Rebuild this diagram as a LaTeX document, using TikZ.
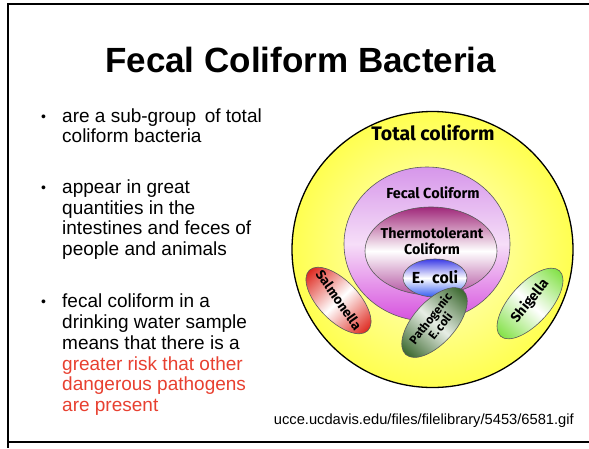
\documentclass[tikz,border=0pt]{standalone}
\usepackage{fontspec}
\setmainfont{Liberation Sans}
\newfontfamily\comic{Fira Sans}
\usetikzlibrary{shapes.geometric}
\definecolor{slidered}{RGB}{232,64,48}
\definecolor{yelin}{RGB}{255,255,215}
\definecolor{yelout}{RGB}{255,255,80}
\definecolor{fecaltop}{RGB}{214,150,234}
\definecolor{fecalmid}{RGB}{246,222,248}
\definecolor{fecalbot}{RGB}{214,80,222}
\definecolor{thermotop}{RGB}{160,40,122}
\definecolor{thermobot}{RGB}{178,82,160}
\definecolor{ecolitop}{RGB}{60,60,230}
\definecolor{ecolibot}{RGB}{50,90,240}
\definecolor{salred}{RGB}{222,40,30}
\definecolor{pathgreen}{RGB}{58,104,46}
\definecolor{pathmid}{RGB}{232,238,230}
\definecolor{shiggreen}{RGB}{130,225,70}
\begin{document}
\begin{tikzpicture}[x=1pt,y=-1pt,
  bodytext/.style={anchor=base west, inner sep=0pt, font=\fontsize{19}{20}\selectfont},
  bulletmark/.style={anchor=base west, inner sep=0pt, font=\fontsize{14}{14}\selectfont},
  lbl/.style={inner sep=0pt, align=center},
  outline/.style={draw=black!65, line width=0.6pt},
]
\useasboundingbox (0,0) rectangle (589,448);
\fill[white] (0,0) rectangle (589,448);
% frame
\draw[line width=1.6pt] (589,4) -- (8,4) -- (8,448);
\draw[line width=1.6pt] (8,442) -- (589,442);

% title
\node[anchor=base west, inner sep=0pt, font=\bfseries\fontsize{35}{40}\selectfont] (title) at (105,72) {Fecal Coliform Bacteria};

% bullets
\node[bulletmark] (m1) at (41,121.5) {•};
\node[bodytext] (t1a) at (62,122) {are a sub-group\, of total};
\node[bodytext] (t1b) at (62,142) {coliform bacteria};

\node[bulletmark] (m2) at (41,192.5) {•};
\node[bodytext] (t2a) at (62,193) {appear in great};
\node[bodytext] (t2b) at (62,214) {quantities in the};
\node[bodytext] (t2c) at (62,234.5) {intestines and feces of};
\node[bodytext] (t2d) at (62,255) {people and animals};

\node[bulletmark] (m3) at (41,306.5) {•};
\node[bodytext] (t3a) at (62,307) {fecal coliform in a};
\node[bodytext] (t3b) at (62,328) {drinking water sample};
\node[bodytext] (t3c) at (62,349) {means that there is a};
\node[bodytext, text=slidered] (t3d) at (62,370) {greater risk that other};
\node[bodytext, text=slidered] (t3e) at (62,390.5) {dangerous pathogens};
\node[bodytext, text=slidered] (t3f) at (62,411) {are present};

% source
\node[anchor=base east, inner sep=0pt, font=\fontsize{14.7}{16}\selectfont] (src) at (574,424) {ucce.ucdavis.edu/files/filelibrary/5453/6581.gif};

% diagram
\shade[inner color=yelin, outer color=yelout] (432.5,249.5) ellipse [x radius=140.5pt, y radius=138pt];
\draw[line width=1.3pt] (432.5,249.5) ellipse [x radius=140.5pt, y radius=138pt];

\draw[outline, top color=fecaltop, bottom color=fecalbot, middle color=fecalmid] (427,244) ellipse [x radius=83pt, y radius=77pt];
\draw[outline, top color=thermotop, bottom color=thermobot, middle color=white] (431,251) ellipse [x radius=66pt, y radius=44pt];
\draw[outline, top color=ecolitop, bottom color=ecolibot, middle color=white] (435,278) ellipse [x radius=32pt, y radius=19pt];

\begin{scope}[transform canvas={shift={(338.5,300.5)}, rotate=-46}]
\draw[outline, left color=salred, right color=salred, middle color=white] (0,0) ellipse [x radius=42pt, y radius=20pt];
\end{scope}
\begin{scope}[transform canvas={shift={(530,303.5)}, rotate=48}]
\draw[outline, left color=shiggreen, right color=shiggreen, middle color=white] (0,0) ellipse [x radius=44pt, y radius=20pt];
\end{scope}
\begin{scope}[transform canvas={shift={(434.5,322.5)}, rotate=48}]
\draw[outline, left color=pathgreen, right color=pathgreen, middle color=pathmid] (0,0) ellipse [x radius=43pt, y radius=21pt];
\end{scope}

\node[lbl, font={\comic\bfseries\fontsize{19.5}{20}\selectfont}] (total) at (433,133) {Total coliform};
\node[lbl, font={\comic\bfseries\fontsize{14.5}{15}\selectfont}] (fecal) at (433,193) {Fecal Coliform};
\node[lbl, font={\comic\bfseries\fontsize{14.3}{16.5}\selectfont}] (thermo) at (432,241) {Thermotolerant\\Coliform};
\node[lbl, font={\comic\bfseries\fontsize{16}{16}\selectfont}] (ecoli) at (435,277) {E.\,\,\,coli};
\node[lbl, font={\comic\bfseries\fontsize{13.5}{14}\selectfont}, rotate=-55] (salm) at (339,300) {Salmonella};
\node[lbl, font={\comic\bfseries\fontsize{12}{12.5}\selectfont}, rotate=52] (patho) at (435,322) {Pathogenic\\E.\,coli};
\node[lbl, font={\comic\bfseries\fontsize{14}{14}\selectfont}, rotate=51] (shig) at (530,301) {Shigella};
\end{tikzpicture}
\end{document}
